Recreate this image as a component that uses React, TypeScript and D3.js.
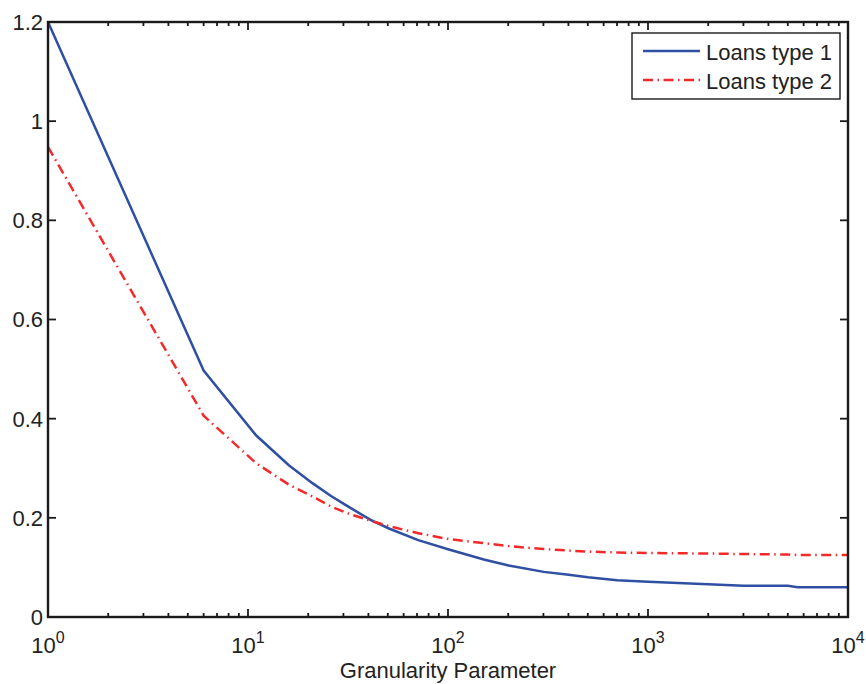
import { useEffect, useRef } from "react"
import * as d3 from "d3"

// granularity values (x) and the two loss curves
const granularity = [1, 6, 11, 16, 21, 26, 31, 41, 51, 71, 101, 151, 201, 301, 401, 501, 701, 1001, 2001, 3001, 5001, 5601, 10000]
const loansType1 = [1.2, 0.497, 0.366, 0.306, 0.27, 0.244, 0.225, 0.196, 0.178, 0.155, 0.136, 0.116, 0.104, 0.091, 0.085, 0.08, 0.074, 0.071, 0.066, 0.063, 0.063, 0.06, 0.06]
const loansType2 = [0.948, 0.406, 0.31, 0.267, 0.243, 0.223, 0.21, 0.194, 0.183, 0.169, 0.157, 0.149, 0.143, 0.137, 0.134, 0.132, 0.13, 0.129, 0.128, 0.127, 0.126, 0.125, 0.125]
const seriesNames = ["Loans type 1", "Loans type 2"]
const yTicks = [0, 0.2, 0.4, 0.6, 0.8, 1, 1.2]
const xDecades = [0, 1, 2, 3, 4]

export default function App() {
  const svgRef = useRef<SVGSVGElement>(null)

  useEffect(() => {
    if (!svgRef.current) return
    document.body.style.margin = "0"
    const svg = d3.select(svgRef.current)
    svg.selectAll("*").remove()

    const left = 48, right = 848, top = 22, bottom = 617
    const font = "'Liberation Sans', Arial, sans-serif"
    const fs = 22

    const x = d3.scaleLog().domain([1, 10000]).range([left, right])
    const y = d3.scaleLinear().domain([0, 1.2]).range([bottom, top])

    const g = svg.append("g")

    // lines
    const line = d3
      .line<number>()
      .x((_, i) => x(granularity[i]))
      .y((d) => y(d))

    const styles = [
      { data: loansType1, color: "#2f4fa2", dash: null },
      { data: loansType2, color: "#f42a2a", dash: "10,4.5,1.5,4.5" },
    ]

    styles.forEach((s) => {
      g.append("path")
        .attr("d", line(s.data))
        .attr("fill", "none")
        .attr("stroke", s.color)
        .attr("stroke-width", 2.5)
        .attr("stroke-dasharray", s.dash)
    })

    // ticks (inward, mirrored)
    const minor: number[] = []
    xDecades.slice(0, -1).forEach((p) => {
      for (let k = 2; k <= 9; k++) minor.push(k * Math.pow(10, p))
    })
    const tickG = g.append("g").attr("stroke", "#1a1a1a").attr("stroke-width", 1.8)
    minor.forEach((v) => {
      tickG.append("line").attr("x1", x(v)).attr("x2", x(v)).attr("y1", bottom).attr("y2", bottom - 4)
      tickG.append("line").attr("x1", x(v)).attr("x2", x(v)).attr("y1", top).attr("y2", top + 4)
    })
    xDecades.forEach((p) => {
      const v = Math.pow(10, p)
      tickG.append("line").attr("x1", x(v)).attr("x2", x(v)).attr("y1", bottom).attr("y2", bottom - 8)
      tickG.append("line").attr("x1", x(v)).attr("x2", x(v)).attr("y1", top).attr("y2", top + 8)
    })
    yTicks.forEach((v) => {
      tickG.append("line").attr("x1", left).attr("x2", left + 8).attr("y1", y(v)).attr("y2", y(v))
      tickG.append("line").attr("x1", right).attr("x2", right - 8).attr("y1", y(v)).attr("y2", y(v))
    })

    // frame
    g.append("rect")
      .attr("x", left)
      .attr("y", top)
      .attr("width", right - left)
      .attr("height", bottom - top)
      .attr("fill", "none")
      .attr("stroke", "#1a1a1a")
      .attr("stroke-width", 2.4)

    // y tick labels
    g.append("g")
      .selectAll("text")
      .data(yTicks)
      .join("text")
      .attr("x", left - 5)
      .attr("y", (d) => y(d))
      .attr("dy", "0.36em")
      .attr("text-anchor", "end")
      .attr("font-family", font)
      .attr("font-size", fs)
      .attr("fill", "#222")
      .text((d) => String(d))

    // x tick labels 10^p
    const xl = g.append("g").attr("font-family", font).attr("fill", "#222")
    xDecades.forEach((p) => {
      const t = xl.append("text").attr("x", x(Math.pow(10, p))).attr("y", 653).attr("text-anchor", "middle")
      t.append("tspan").attr("font-size", fs).text("10")
      t.append("tspan").attr("font-size", 16).attr("dy", -10).text(String(p))
    })

    g.append("text")
      .attr("x", (left + right) / 2)
      .attr("y", 678)
      .attr("text-anchor", "middle")
      .attr("font-family", font)
      .attr("font-size", fs)
      .attr("fill", "#222")
      .text("Granularity Parameter")

    // legend
    const lg = g.append("g")
    lg.append("rect")
      .attr("x", 632)
      .attr("y", 33)
      .attr("width", 208)
      .attr("height", 66)
      .attr("fill", "white")
      .attr("stroke", "#1a1a1a")
      .attr("stroke-width", 1.4)
    styles.forEach((s, i) => {
      const ly = 51 + i * 29
      lg.append("line")
        .attr("x1", 643)
        .attr("x2", 700)
        .attr("y1", ly)
        .attr("y2", ly)
        .attr("stroke", s.color)
        .attr("stroke-width", 2.5)
        .attr("stroke-dasharray", s.dash)
      lg.append("text")
        .attr("x", 706)
        .attr("y", ly + 9)
        .attr("font-family", font)
        .attr("font-size", fs)
        .attr("fill", "#222")
        .text(seriesNames[i])
    })
  }, [])

  return <svg ref={svgRef} width={866} height={684} style={{ display: "block" }}></svg>
}
